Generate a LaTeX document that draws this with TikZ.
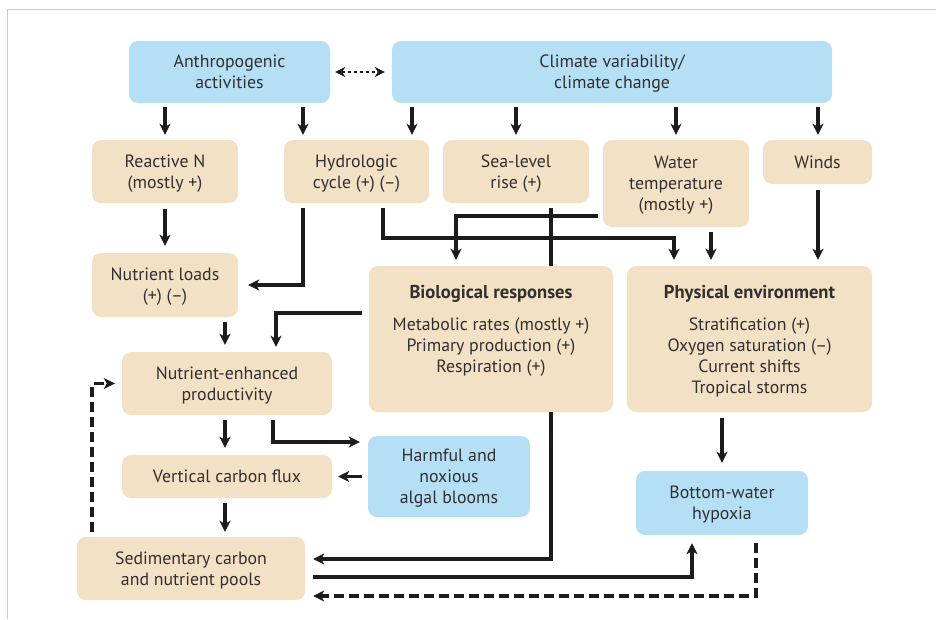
\documentclass[tikz,border=0pt]{standalone}
\usepackage{fontspec}
\setmainfont{PT Sans}
\usetikzlibrary{arrows.meta,calc}
\definecolor{sky}{RGB}{180,223,245}
\definecolor{tanfill}{RGB}{243,225,197}
\definecolor{ink}{RGB}{50,47,48}
\definecolor{lineink}{RGB}{30,27,28}
\definecolor{framegray}{RGB}{200,200,200}
\begin{document}
\begin{tikzpicture}[x=1pt,y=-1pt,
  box/.style={rounded corners=9pt, align=center, inner sep=0pt, text=ink,
    text depth=0pt, font=\fontsize{17.8}{21}\selectfont},
  bluebox/.style={box, fill=sky},
  tanbox/.style={box, fill=tanfill},
  txt/.style={align=center, inner sep=0pt, text=ink, text depth=0pt,
    font=\fontsize{17.8}{21}\selectfont},
  headtxt/.style={txt, font=\fontsize{18.6}{21}\selectfont\bfseries},
  conn/.style={line width=3.2pt, draw=lineink},
  arr/.style={conn, -{Stealth[length=11pt,width=11pt,inset=3pt]}},
  dasharr/.style={arr, dash pattern=on 10pt off 5pt},
  dotarr/.style={conn, line width=2.8pt, dash pattern=on 3pt off 3pt,
    {Stealth[length=10pt,width=10pt,inset=3pt]}-{Stealth[length=10pt,width=10pt,inset=3pt]}}
]
\useasboundingbox (0,0) rectangle (936,619);
\draw[framegray, line width=1pt] (7.5,619) -- (7.5,9.5) -- (936,9.5);

% x and y guide coordinates
\foreach \v in {92,165,225,273,276,303,383,412,456,516,551,674,676,692,711,722,756,818}
  {\coordinate (x\v) at (\v,0);}
\foreach \v in {216,238,313,442,559,577,596}
  {\coordinate (y\v) at (0,\v);}

% boxes
\node[bluebox, minimum width=201pt, minimum height=62pt] (anthro) at (229.5,72) {Anthropogenic\\activities};
\node[bluebox, minimum width=440pt, minimum height=62pt] (climate) at (612,72) {Climate variability/\\climate change};
\node[tanbox, minimum width=146pt, minimum height=63pt] (reactN) at (165,171.5) {Reactive N\\(mostly +)};
\node[tanbox, minimum width=145pt, minimum height=63pt] (hydro) at (356.5,171.5) {Hydrologic\\cycle (+) (–)};
\node[tanbox, minimum width=146pt, minimum height=63pt] (sea) at (516,171.5) {Sea-level\\rise (+)};
\node[tanbox, minimum width=146pt, minimum height=87pt] (watert) at (676,183.5) {Water\\temperature\\(mostly +)};
\node[tanbox, minimum width=109pt, minimum height=44pt] (winds) at (817.5,162) {Winds};
\node[tanbox, minimum width=146pt, minimum height=64pt] (nload) at (165,285) {Nutrient loads\\(+) (–)};
\node[tanbox, minimum width=244pt, minimum height=146pt] (bio) at (491,339) {};
\node[headtxt] (biohead) at (491,292) {Biological responses};
\node[txt] (biotext) at (491,345) {Metabolic rates (mostly +)\\Primary production (+)\\Respiration (+)};
\node[tanbox, minimum width=245pt, minimum height=146pt] (phys) at (749.5,339) {};
\node[headtxt] (physhead) at (749.5,292) {Physical environment};
\node[txt] (phystext) at (749.5,355.5) {Stratification (+)\\Oxygen saturation (–)\\Current shifts\\Tropical storms};
\node[tanbox, minimum width=210pt, minimum height=63pt] (nep) at (227,383.5) {Nutrient-enhanced\\productivity};
\node[bluebox, minimum width=162pt, minimum height=81pt] (harm) at (449,476.5) {Harmful and\\noxious\\algal blooms};
\node[tanbox, minimum width=210pt, minimum height=43pt] (vcf) at (227,476.5) {Vertical carbon flux};
\node[tanbox, minimum width=228pt, minimum height=63pt] (sed) at (191,568.5) {Sedimentary carbon\\and nutrient pools};
\node[bluebox, minimum width=172pt, minimum height=64pt] (hyp) at (722,503) {Bottom-water\\hypoxia};

% connectors
\draw[dotarr, shorten <=5pt, shorten >=7pt] (anthro.east) -- (climate.west);
\draw[arr, shorten <=4pt, shorten >=5pt] (anthro.south -| x165) -- (reactN.north -| x165);
\draw[arr, shorten <=4pt, shorten >=5pt] (anthro.south -| x303) -- (hydro.north -| x303);
\draw[arr, shorten <=4pt, shorten >=5pt] (climate.south -| x412) -- (hydro.north -| x412);
\draw[arr, shorten <=4pt, shorten >=5pt] (climate.south -| x516) -- (sea.north -| x516);
\draw[arr, shorten <=4pt, shorten >=5pt] (climate.south -| x676) -- (watert.north -| x676);
\draw[arr, shorten <=4pt, shorten >=5pt] (climate.south -| x818) -- (winds.north -| x818);

\draw[arr, shorten <=6pt, shorten >=7pt] (reactN.south -| x165) -- (nload.north -| x165);
\draw[arr, shorten <=5pt, shorten >=10pt] (hydro.south -| x303) |- (nload.east);
\draw[arr, shorten <=5pt, shorten >=6pt] (hydro.south -| x383) |- (x674 |- y238) -- (phys.north -| x674);
\draw[arr, shorten <=5pt, shorten >=6pt] (watert.west |- y216) -| (bio.north -| x456);
\draw[conn, shorten <=5pt] (sea.south -| x551) -- (bio.north -| x551);
\draw[arr, shorten <=5pt, shorten >=6pt] (watert.south -| x711) -- (phys.north -| x711);
\draw[arr, shorten <=6pt, shorten >=6pt] (winds.south -| x818) -- (phys.north -| x818);

\draw[arr, shorten <=5pt, shorten >=7pt] (nload.south -| x225) -- (nep.north -| x225);
\draw[arr, shorten <=7pt, shorten >=5pt] (bio.west |- y313) -| (nep.north -| x276);
\draw[arr, shorten <=5pt, shorten >=7pt] (nep.south -| x225) -- (vcf.north -| x225);
\draw[arr, shorten <=5pt, shorten >=8pt] (nep.south -| x273) |- (harm.west |- y442);
\draw[arr, shorten <=6pt, shorten >=6pt] (harm.west) -- (vcf.east);
\draw[arr, shorten <=5pt, shorten >=5pt] (vcf.south -| x225) -- (sed.north -| x225);
\draw[arr, shorten >=8pt] (bio.south -| x551) |- (sed.east |- y559);
\draw[arr, shorten <=8pt, shorten >=8pt] (sed.east |- y577) -| (hyp.south -| x692);
\draw[dasharr, shorten <=8pt, shorten >=8pt] (hyp.south -| x756) |- (sed.east |- y596);
\draw[dasharr, shorten <=5pt, shorten >=7pt] (sed.north -| x92) |- (nep.west);
\draw[arr, shorten <=6pt, shorten >=8pt] (phys.south -| x722) -- (hyp.north -| x722);
\end{tikzpicture}
\end{document}
